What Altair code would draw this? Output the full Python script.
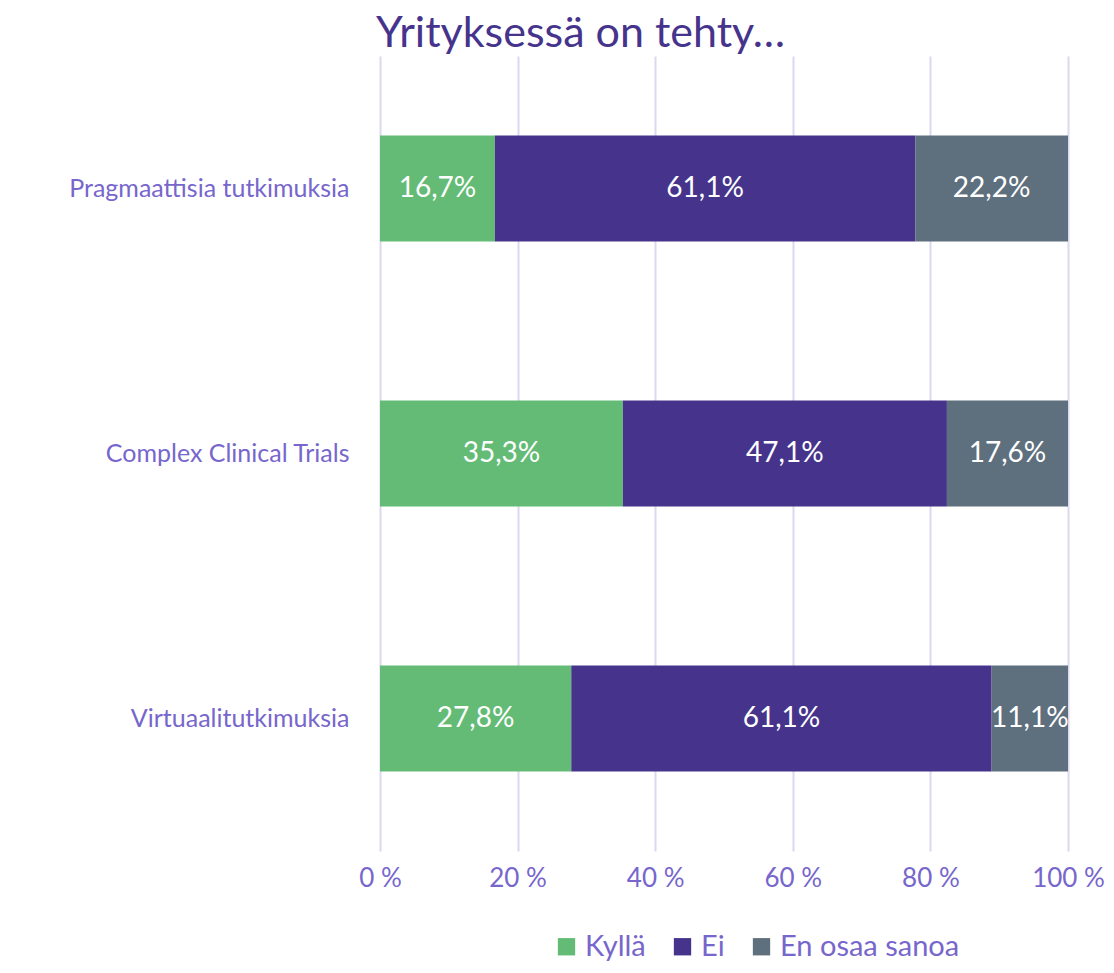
import altair as alt
import pandas as pd

categories = ["Pragmaattisia tutkimuksia", "Complex Clinical Trials", "Virtuaalitutkimuksia"]
series = ["Kyllä", "Ei", "En osaa sanoa"]
kylla = [16.7, 35.3, 27.8]
ei = [61.1, 47.1, 61.1]
eos = [22.2, 17.6, 11.1]
colors = ["#63bb76", "#46348c", "#5e6f7e"]

rows = []
for i, c in enumerate(categories):
    for j, (s, vals) in enumerate(zip(series, [kylla, ei, eos])):
        v = vals[i]
        rows.append({"cat": c, "series": s, "val": v, "ord": j,
                     "label": f"{v:.1f}".replace(".", ",") + "%"})
df = pd.DataFrame(rows)

FONT = "Lato"
LAB = "#7766cc"

base = alt.Chart(df).transform_stack(
    stack="val", as_=["x0", "x1"], groupby=["cat"], sort=[alt.SortField("ord", "ascending")]
).transform_calculate(mid="(datum.x0 + datum.x1) / 2")

yenc = alt.Y("cat:N", sort=categories, title=None,
             scale=alt.Scale(paddingInner=0, paddingOuter=0),
             axis=alt.Axis(domain=False, ticks=False, labelFont=FONT, labelFontSize=25,
                           labelColor=LAB, labelPadding=31, labelLimit=400))

bars = base.mark_bar(size=106).encode(
    x=alt.X("x0:Q", title=None, scale=alt.Scale(domain=[0, 100], nice=False),
            axis=alt.Axis(values=[0, 20, 40, 60, 80, 100], labelExpr="datum.value + ' %'",
                          domain=False, ticks=False, grid=True, gridColor="#dcd8f2",
                          gridWidth=2, labelFont=FONT, labelFontSize=26, labelColor=LAB,
                          labelPadding=14, labelFlush=False)),
    x2="x1:Q",
    y=yenc,
    color=alt.Color("series:N", sort=series,
                    scale=alt.Scale(domain=series, range=colors),
                    legend=alt.Legend(title=None, orient="none", direction="horizontal",
                                      legendX=172, legendY=876, symbolType="square",
                                      symbolSize=300, symbolStrokeWidth=0,
                                      labelFont=FONT, labelFontSize=29, labelColor=LAB,
                                      labelLimit=400, columnPadding=22, symbolOffset=0)),
)

texts = base.mark_text(color="white", font=FONT, fontSize=28).encode(
    x="mid:Q", y=alt.Y("cat:N", sort=categories), text="label:N"
)

chart = alt.layer(bars, texts).properties(
    width=688, height=795,
    title=alt.TitleParams("Yrityksessä on tehty…", font=FONT, fontSize=43, fontWeight="normal",
                          color="#46348c", anchor="start", frame="group", dx=-4, offset=0),
    autosize=alt.AutoSizeParams(type="none"),
    padding={"left": 372, "top": 48, "right": 38, "bottom": 114},
).configure_view(stroke=None)

chart.save("out.html", embed_options={"renderer": "svg", "actions": False})
